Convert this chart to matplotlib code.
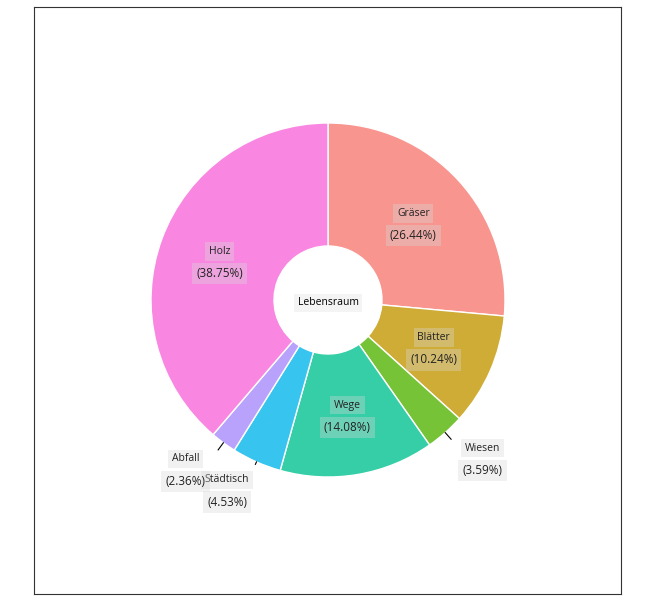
import numpy as np
import matplotlib
matplotlib.use("Agg")
import matplotlib.pyplot as plt

plt.rcParams["font.family"] = ["Open Sans", "DejaVu Sans"]

# slices, clockwise from 12 o'clock
labels = ["Gräser", "Blätter", "Wiesen", "Wege", "Städtisch", "Abfall", "Holz"]
shares = [26.44, 10.24, 3.59, 14.08, 4.53, 2.36, 38.75]
colors = ["#F8958E", "#CFAC35", "#77C337", "#35CEA7", "#37C4EE", "#B9A2FC", "#F987E1"]
center_title = "Lebensraum"

W, H = 653, 605
fig = plt.figure(figsize=(W / 100, H / 100), dpi=100)
ax = fig.add_axes([34 / W, 11 / H, 587 / W, 587 / H])

hole = 54 / 177
wedges, _ = ax.pie(shares, colors=colors, startangle=90, counterclock=False,
                   radius=1.0, wedgeprops=dict(width=1 - hole, edgecolor="white", linewidth=1),
                   frame=True)
ax.set_xlim(-294 / 177, 293 / 177)
ax.set_ylim(-294 / 177, 293 / 177)
ax.set_xticks([]); ax.set_yticks([])
for s in ax.spines.values():
    s.set_linewidth(0.8)
    s.set_color("#333333")

box = dict(boxstyle="square,pad=0.35", fc="#d8d8d8", ec="none", alpha=0.35)
mid_r = (1 + hole) / 2
# nudges (radius, angle offset deg, dx, dy, leader length) for slices labelled outside
outside = {"Wiesen": (1.24, 2, 0.02, 0, 0.05), "Abfall": (1.24, -3, -0.02, 0, 0.05),
           "Städtisch": (1.22, -4, 0.0, 0.0, 0.015)}
total = sum(shares)
cum = 0
for lab, v, w in zip(labels, shares, wedges):
    ang = np.deg2rad(90 - 360 * (cum + v / 2) / total)
    cum += v
    if lab in outside:
        r, da, dx, dy, ll = outside[lab]
        a2 = ang + np.deg2rad(da)
        x, y = r * np.cos(a2) + dx, r * np.sin(a2) + dy
        ax.plot([1.0 * np.cos(ang), (1 + ll) * np.cos(ang)],
                [1.0 * np.sin(ang), (1 + ll) * np.sin(ang)], color="black", lw=0.8)
    else:
        x, y = mid_r * np.cos(ang), mid_r * np.sin(ang) - 0.014
    ax.text(x, y + 0.063, lab, ha="center", va="center", fontsize=7.5,
            color="#222222", bbox=box, zorder=4)
    ax.text(x, y - 0.063, f"({v:.2f}%)", ha="center", va="center", fontsize=8.5,
            color="#222222", bbox=box, zorder=4)

ax.text(0, -0.015, center_title, ha="center", va="center", fontsize=7.5, color="black",
        bbox=dict(boxstyle="square,pad=0.35", fc="#eeeeee", ec="none", alpha=0.6))

fig.savefig("out.png", dpi=100)
